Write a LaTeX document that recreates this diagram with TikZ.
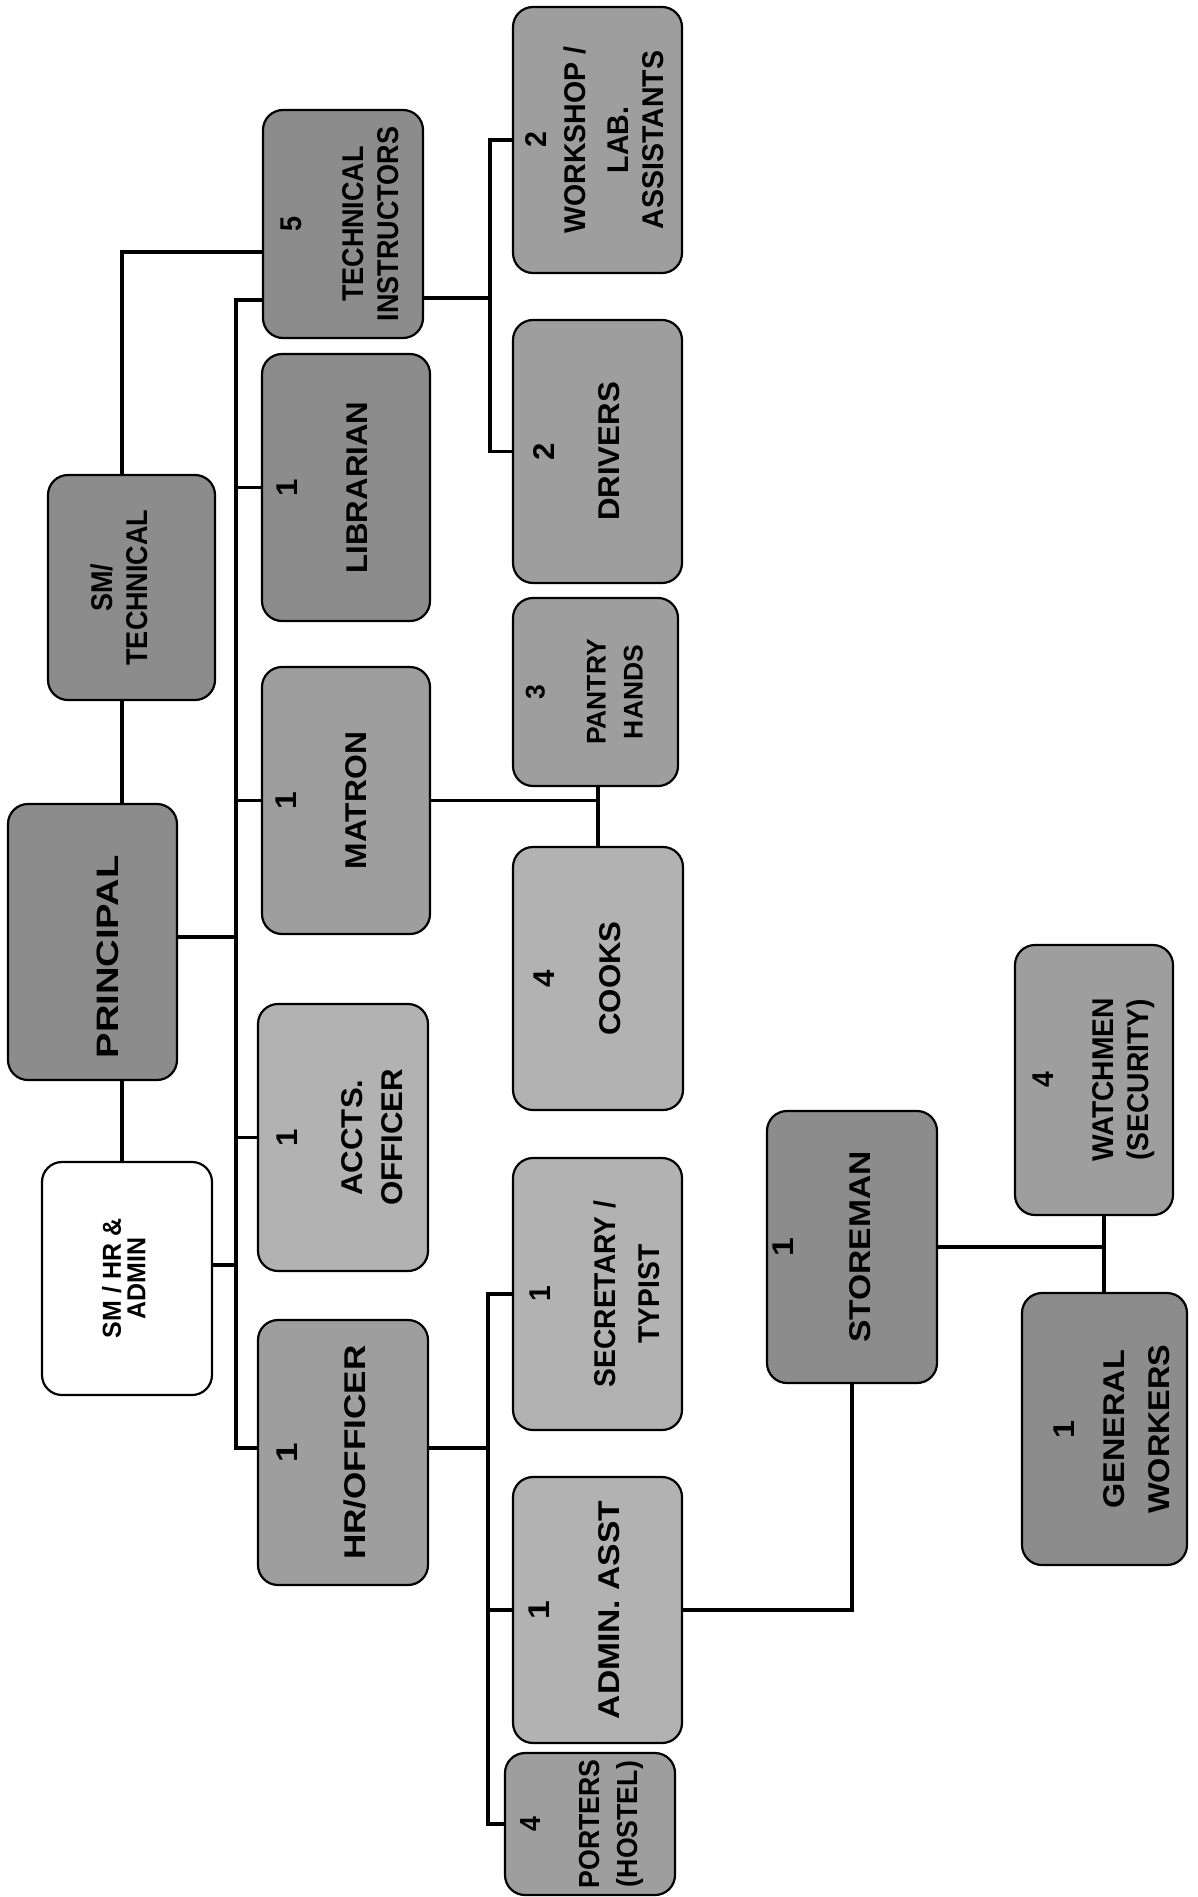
\documentclass[tikz,border=0pt]{standalone}
\usepackage{fontspec}
\setmainfont{Liberation Sans}
\usepackage{graphicx}
\newcommand\bxt[4]{\scalebox{#1}[1]{\fontsize{#2}{#3}\selectfont\begin{tabular}{@{}c@{}}#4\end{tabular}}}
\definecolor{gDark}{gray}{0.55}
\definecolor{gMid}{gray}{0.62}
\definecolor{gLight}{gray}{0.70}
\begin{document}
\begin{tikzpicture}[x=1pt,y=-1pt]
\tikzset{
 orgbox/.style={draw, line width=2.2pt, rounded corners=20pt, rotate=90, inner sep=0pt, font=\bfseries},
 conn/.style={line width=3.5pt, line cap=rect},
}
\fill[white] (0,0) rectangle (1197,1897);
\useasboundingbox (0,0) rectangle (1197,1897);

% level 0/1
\node[orgbox, fill=white, minimum width=233pt, minimum height=170pt] (smhr) at (127,1278.5)
  {\bxt{0.96}{26}{22}{SM / HR \&\\ADMIN}};
\node[orgbox, fill=gDark, minimum width=276pt, minimum height=169pt] (prin) at (92.5,942)
  {\rule{0pt}{52pt}\scalebox{1.23}[1]{\fontsize{31}{36}\selectfont PRINCIPAL}\hspace*{30pt}};
\node[orgbox, fill=gDark, minimum width=225pt, minimum height=167pt] (smtech) at (131.5,587.5)
  {\bxt{0.9}{30}{35}{SM/\\TECHNICAL\\[18pt]}};

% second column
\node[orgbox, fill=gDark, minimum width=228pt, minimum height=160pt] (techi) at (343,224)
  {\bxt{0.9}{30}{35}{5\\[27pt]TECHNICAL\\INSTRUCTORS}};
\node[orgbox, fill=gDark, minimum width=267pt, minimum height=168pt] (lib) at (346,487.5)
  {\bxt{1.04}{30}{35}{1\\[35pt]LIBRARIAN\\[42pt]}};
\node[orgbox, fill=gMid, minimum width=267pt, minimum height=168pt] (matron) at (346,800.5)
  {\bxt{1.06}{30}{35}{1\\[35pt]MATRON\\[44pt]}};
\node[orgbox, fill=gLight, minimum width=267pt, minimum height=170pt] (accts) at (343,1137.5)
  {\bxt{1.04}{30}{35}{1\\[30pt]ACCTS.\\[5pt]OFFICER}};
\node[orgbox, fill=gMid, minimum width=265pt, minimum height=170pt] (hroff) at (343,1452.5)
  {\bxt{1.17}{30}{35}{1\\[33pt]HR/OFFICER\\[38pt]}};

% third column
\node[orgbox, fill=gMid, minimum width=266pt, minimum height=169pt] (ws) at (597.5,140)
  {\bxt{0.95}{30}{35}{2\\[4pt]WORKSHOP /\\[8pt]LAB.\\ASSISTANTS}};
\node[orgbox, fill=gMid, minimum width=263pt, minimum height=169pt] (dr) at (597.5,451.5)
  {\bxt{1.04}{30}{35}{2\\[30pt]DRIVERS\\[35pt]}};
\node[orgbox, fill=gMid, minimum width=188pt, minimum height=165pt] (pan) at (595.5,692)
  {\bxt{0.98}{27}{35}{3\\[26pt]PANTRY\\[2pt]HANDS\\[18pt]}};
\node[orgbox, fill=gLight, minimum width=263pt, minimum height=170pt] (cook) at (598,978.5)
  {\bxt{1.04}{30}{35}{4\\[31pt]COOKS\\[36pt]}};
\node[orgbox, fill=gLight, minimum width=272pt, minimum height=169pt] (sec) at (597.5,1294)
  {\bxt{0.94}{30}{35}{1\\[30pt]SECRETARY /\\[9pt]TYPIST}};
\node[orgbox, fill=gLight, minimum width=266pt, minimum height=169pt] (adm) at (597.5,1610)
  {\bxt{1.12}{30}{35}{1\\[35pt]ADMIN. ASST\\[40pt]}};
\node[orgbox, fill=gMid, minimum width=142pt, minimum height=170pt] (port) at (590,1824)
  {\bxt{0.92}{29}{35}{4\\[24pt]PORTERS\\[3pt](HOSTEL)\\[17pt]}};

% lower part
\node[orgbox, fill=gDark, minimum width=272pt, minimum height=170pt] (store) at (852,1247)
  {\bxt{1.12}{30}{35}{1\\[42pt]STOREMAN\\[55pt]}};
\node[orgbox, fill=gMid, minimum width=270pt, minimum height=158pt] (watch) at (1094,1080)
  {\bxt{0.94}{30}{35}{4\\[25pt]WATCHMEN\\(SECURITY)}};
\node[orgbox, fill=gDark, minimum width=272pt, minimum height=165pt] (genw) at (1104.5,1429)
  {\bxt{1.08}{30}{35}{\rule{0pt}{45pt}1\\[15pt]GENERAL\\[10pt]WORKERS}};

% connectors
\coordinate (vA) at (122,0);
\coordinate (sA) at (122,252);
\draw[conn] (vA |- smtech.west) -- (vA |- prin.east);
\draw[conn] (vA |- prin.west) -- (vA |- smhr.east);
\draw[conn] (vA |- smtech.east) -- (sA) -- (sA -| techi.north);

\coordinate (tTop) at (236,300);
\coordinate (tBot) at (236,1448);
\draw[conn] (tTop -| techi.north) -- (tTop) -- (tBot) -- (tBot -| hroff.north);
\draw[conn] (tTop |- lib.north) -- (lib.north);
\draw[conn] (tTop |- matron.north) -- (matron.north);
\draw[conn] (tTop |- accts.north) -- (accts.north);
\coordinate (pJ) at (236,937);
\draw[conn] (pJ -| prin.south) -- (pJ);
\coordinate (hJ) at (236,1265);
\draw[conn] (hJ -| smhr.south) -- (hJ);

\coordinate (uT) at (490,298);
\draw[conn] (ws.north) -- (ws.north -| uT) -- (dr.north -| uT) -- (dr.north);
\draw[conn] (uT -| techi.south) -- (uT);

\coordinate (hR) at (488,1448);
\draw[conn] (sec.north) -- (sec.north -| hR) -- (port.north -| hR) -- (port.north);
\draw[conn] (hR |- adm.north) -- (adm.north);
\draw[conn] (hR -| hroff.south) -- (hR);

\coordinate (mx) at (598,0);
\draw[conn] (matron.south) -- (matron.south -| mx);
\draw[conn] (mx |- pan.west) -- (mx |- cook.east);

\draw[conn] (adm.south) -| (store.west);

\coordinate (gx) at (1104,0);
\draw[conn] (store.south) -- (store.south -| gx);
\draw[conn] (gx |- watch.west) -- (gx |- genw.east);
\end{tikzpicture}
\end{document}
